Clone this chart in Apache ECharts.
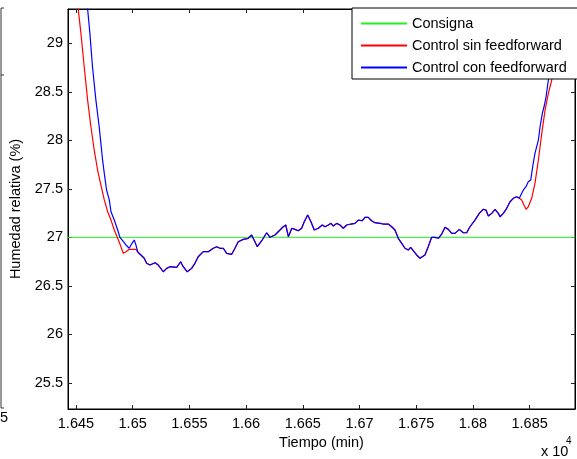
<!DOCTYPE html>
<html>
<head>
<meta charset="utf-8">
<script src="https://cdn.jsdelivr.net/npm/echarts@6/dist/echarts.min.js"></script>
<style>
  html, body { margin: 0; padding: 0; background: #fff; }
  #grafica { width: 577px; height: 459px; }
</style>
</head>
<body>
<div id="grafica"></div>
<script>
// tiempo en minutos, humedad relativa en %
var tiempoConsigna = [16443, 16890];
var humConsigna = [27, 27];

// tramo inicial de cada control
var tiempoInicioSin = [16449.1, 16452.0, 16454.4, 16457.3, 16460.3, 16463.2, 16466.1, 16469.1, 16472.0, 16475.0,
  16478.0, 16480.9, 16483.8, 16486.8, 16489.7, 16491.7, 16494.1, 16497.0, 16502.9, 16505.3];
var humInicioSin = [29.50, 29.354, 29.103, 28.759, 28.415, 28.140, 27.900, 27.694, 27.539, 27.386,
  27.264, 27.178, 27.075, 26.990, 26.903, 26.835, 26.852, 26.876, 26.876, 26.835];

var tiempoInicioCon = [16458.8, 16460.3, 16462.3, 16464.6, 16467.6, 16470.5, 16472.0, 16473.5, 16475.0, 16477.0,
  16479.4, 16480.9, 16483.8, 16486.8, 16488.8, 16491.2, 16494.1, 16497.0, 16499.4, 16501.4, 16502.9, 16504.4];
var humInicioCon = [29.50, 29.354, 29.103, 28.759, 28.415, 28.140, 27.969, 27.797, 27.660, 27.488,
  27.386, 27.264, 27.178, 27.075, 27.000, 26.965, 26.921, 26.887, 26.938, 26.972, 26.921, 26.852];

// tramo central, las dos curvas casi coinciden
var tiempoComun = [16507.3, 16510.2, 16512.3, 16515.3, 16519.7, 16522.6, 16527.0, 16530.0, 16532.9, 16538.8,
  16542.3, 16544.6, 16548.1, 16552.0, 16554.9, 16557.8, 16562.3, 16566.7, 16571.1, 16574.1,
  16577.0, 16579.9, 16582.9, 16587.3, 16590.2, 16593.1, 16597.5, 16601.9, 16604.9, 16607.8,
  16609.9, 16613.8, 16618.2, 16621.1, 16625.5, 16629.9, 16632.8, 16635.0, 16637.3, 16640.3,
  16643.1, 16646.0, 16649.0, 16651.3, 16654.3, 16657.2, 16660.1, 16663.7, 16667.2, 16669.6,
  16672.5, 16674.9, 16676.9, 16679.9, 16682.8, 16685.7, 16688.7, 16692.5, 16696.0, 16698.9,
  16702.5, 16704.8, 16707.7, 16710.7, 16713.6, 16718.1, 16721.0, 16725.4, 16728.4, 16731.3,
  16734.2, 16737.2, 16740.1, 16743.0, 16745.1, 16747.4, 16750.4, 16753.3, 16754.8, 16757.7,
  16760.6, 16763.6, 16766.6, 16769.5, 16772.5, 16775.4, 16778.3, 16781.3, 16784.2, 16788.0,
  16791.5, 16794.5, 16797.4, 16801.8, 16805.6, 16809.2, 16811.5, 16813.6, 16816.6, 16819.5,
  16822.4, 16823.9, 16826.8, 16829.8, 16832.7, 16835.6, 16838.6, 16840.9];
var humComun = [26.818, 26.784, 26.732, 26.714, 26.738, 26.714, 26.645, 26.680, 26.697, 26.691,
  26.748, 26.697, 26.645, 26.680, 26.732, 26.800, 26.852, 26.852, 26.887, 26.903,
  26.887, 26.887, 26.835, 26.825, 26.887, 26.955, 26.979, 26.990, 27.024, 26.955,
  26.903, 26.965, 27.047, 27.000, 27.024, 27.075, 27.109, 27.127, 27.006, 27.093,
  27.082, 27.068, 27.093, 27.161, 27.230, 27.161, 27.075, 27.093, 27.127, 27.109,
  27.127, 27.144, 27.116, 27.144, 27.127, 27.093, 27.127, 27.137, 27.144, 27.178,
  27.171, 27.206, 27.206, 27.171, 27.151, 27.144, 27.137, 27.137, 27.109, 27.075,
  26.990, 26.938, 26.887, 26.869, 26.897, 26.862, 26.818, 26.784, 26.766, 26.818,
  26.903, 27.000, 27.000, 26.990, 27.034, 27.103, 27.082, 27.041, 27.041, 27.082,
  27.047, 27.047, 27.109, 27.178, 27.247, 27.289, 27.281, 27.220, 27.247, 27.289,
  27.247, 27.212, 27.247, 27.299, 27.367, 27.402, 27.419, 27.402];

// tramo final
var tiempoFinalSin = [16843.0, 16845.0, 16846.8, 16848.8, 16851.8, 16854.7, 16857.7, 16860.7, 16863.6, 16866.5,
  16869.5, 16873.3, 16877.7, 16882.1, 16884.7];
var humFinalSin = [27.385, 27.333, 27.289, 27.315, 27.402, 27.557, 27.797, 28.072, 28.312, 28.485,
  28.622, 28.879, 29.137, 29.364, 29.50];

var tiempoFinalCon = [16843.0, 16844.5, 16846.8, 16848.8, 16851.0, 16852.7, 16854.7, 16857.7, 16859.2, 16861.2,
  16862.7, 16864.5, 16866.5, 16869.8, 16873.3, 16876.8];
var humFinalCon = [27.454, 27.488, 27.522, 27.573, 27.591, 27.728, 27.866, 28.003, 28.140, 28.278,
  28.346, 28.449, 28.622, 28.879, 29.137, 29.40];

var ticksX = [16450, 16500, 16550, 16600, 16650, 16700, 16750, 16800, 16850];
var ticksY = [25.5, 26, 26.5, 27, 27.5, 28, 28.5, 29];

function pares(t, h) {
  return t.map(function (v, i) { return [v, h[i]]; });
}

var datosSin = pares(tiempoInicioSin.concat(tiempoComun, tiempoFinalSin), humInicioSin.concat(humComun, humFinalSin));
var datosCon = pares(tiempoInicioCon.concat(tiempoComun, tiempoFinalCon), humInicioCon.concat(humComun, humFinalCon));

var fuente = "'Liberation Sans', Arial, Helvetica, sans-serif";
var chart = echarts.init(document.getElementById('grafica'));

chart.setOption({
  animation: false,
  textStyle: { fontFamily: fuente },
  grid: {
    left: 68, top: 9, right: 2, bottom: 50,
    show: true, borderColor: '#000', borderWidth: 1
  },
  legend: {
    orient: 'vertical',
    left: 352, top: 8,
    padding: [8, 30, 4, 8],
    itemWidth: 46, itemHeight: 14, itemGap: 7,
    backgroundColor: '#fff',
    borderColor: '#000', borderWidth: 1, borderRadius: 0,
    itemStyle: { opacity: 0, borderWidth: 0 },
    textStyle: { fontSize: 14.5, color: '#000', fontFamily: fuente },
    data: ['Consigna', 'Control sin feedforward', 'Control con feedforward']
  },
  xAxis: [{
    type: 'value', min: 16443, max: 16890,
    name: 'Tiempo (min)', nameLocation: 'middle', nameGap: 18,
    nameTextStyle: { fontSize: 14.5, color: '#000' },
    axisLine: { show: true, lineStyle: { color: '#000' } },
    axisTick: { inside: true, length: 4, customValues: ticksX, lineStyle: { color: '#222' } },
    axisLabel: {
      customValues: ticksX, margin: 7, fontSize: 14.5, color: '#000',
      formatter: function (v) { return String(+(v / 10000).toFixed(4)); }
    },
    splitLine: { show: false }
  }, {
    type: 'value', min: 16443, max: 16890, position: 'top',
    axisLine: { show: true, lineStyle: { color: '#000' } },
    axisTick: { inside: true, length: 4, customValues: ticksX, lineStyle: { color: '#222' } },
    axisLabel: { show: false },
    splitLine: { show: false }
  }],
  yAxis: [{
    type: 'value', min: 25.23, max: 29.354,
    name: 'Humedad relativa (%)', nameLocation: 'middle', nameGap: 37,
    nameTextStyle: { fontSize: 14.5, color: '#000' },
    axisLine: { show: true, lineStyle: { color: '#000' } },
    axisTick: { inside: true, length: 4, customValues: ticksY, lineStyle: { color: '#222' } },
    axisLabel: { customValues: ticksY, margin: 5, fontSize: 14.5, color: '#000' },
    splitLine: { show: false }
  }, {
    type: 'value', min: 25.23, max: 29.354, position: 'right',
    axisLine: { show: true, lineStyle: { color: '#000' } },
    axisTick: { inside: true, length: 4, customValues: ticksY, lineStyle: { color: '#222' } },
    axisLabel: { show: false },
    splitLine: { show: false }
  }],
  series: [{
    name: 'Consigna', type: 'line', symbol: 'none',
    color: '#22ee22', lineStyle: { width: 1 },
    data: pares(tiempoConsigna, humConsigna)
  }, {
    name: 'Control sin feedforward', type: 'line', symbol: 'none',
    color: '#ff0000', lineStyle: { width: 1.2 },
    data: datosSin
  }, {
    name: 'Control con feedforward', type: 'line', symbol: 'none',
    color: '#0000ff', lineStyle: { width: 1.2 },
    data: datosCon
  }],
  graphic: [
    { type: 'text', left: 541, top: 444, style: { text: 'x 10', fontSize: 14.5, fill: '#000', fontFamily: fuente } },
    { type: 'text', left: 566, top: 436, style: { text: '4', fontSize: 10, fill: '#000', fontFamily: fuente } },
    { type: 'text', left: 0, top: 410, style: { text: '5', fontSize: 14.5, fill: '#000', fontFamily: fuente } },
    {
      type: 'polyline', silent: true,
      shape: { points: [[4, 8], [1, 8], [1, 408], [4, 408]] },
      style: { stroke: '#333', lineWidth: 1, fill: null }
    },
    {
      type: 'line', silent: true,
      shape: { x1: 1, y1: 75, x2: 4, y2: 75 },
      style: { stroke: '#333', lineWidth: 1 }
    }
  ]
});
</script>
</body>
</html>
